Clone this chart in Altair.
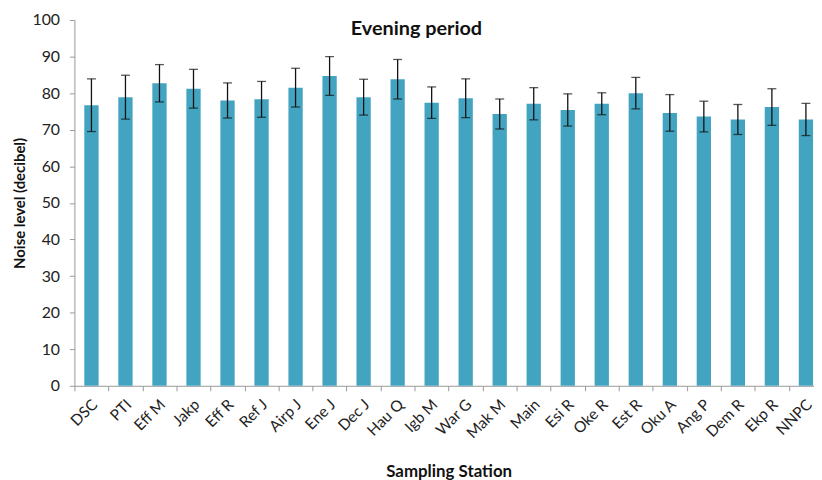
import altair as alt
import pandas as pd

stations = ["DSC", "PTI", "Eff M", "Jakp", "Eff R", "Ref J", "Airp J", "Ene J", "Dec J", "Hau Q",
            "Igb M", "War G", "Mak M", "Main", "Esi R", "Oke R", "Est R", "Oku A", "Ang P", "Dem R",
            "Ekp R", "NNPC"]
noise = [76.7, 78.9, 82.7, 81.2, 78.0, 78.3, 81.5, 84.7, 78.9, 83.8,
         77.4, 78.6, 74.3, 77.1, 75.4, 77.1, 80.0, 74.6, 73.6, 72.8,
         76.2, 72.8]
sd = [7.2, 6.0, 5.1, 5.3, 4.8, 4.9, 5.3, 5.3, 4.9, 5.4,
      4.3, 5.3, 4.1, 4.4, 4.4, 3.0, 4.3, 5.0, 4.2, 4.1,
      5.0, 4.4]
title_text = ["Evening period"]

df = pd.DataFrame({"station": stations, "noise": noise, "sd": sd})

FONT = "Lato"

x_axis = alt.Axis(
    labelAngle=-45, labelAlign="right", labelBaseline="middle",
    labelFontSize=15.5, labelFont=FONT, labelColor="#222222",
    bandPosition=0, tickOffset=-10, labelOffset=13, labelPadding=11,
    tickSize=5, tickColor="#999999", domainColor="#999999",
    titleFont=FONT, titleFontSize=17, titleFontWeight="bold", titleColor="#111111",
    titlePadding=22,
)
x_scale = alt.Scale(range=[0, 755], paddingInner=0.58, paddingOuter=0.29)


def xenc():
    return alt.X("station:N", sort=stations, title="Sampling Station", scale=x_scale, axis=x_axis)


y_scale = alt.Scale(domain=[0, 100], nice=False)
y_axis = alt.Axis(
    values=list(range(0, 101, 10)), grid=False,
    labelFontSize=16, labelFont=FONT, labelColor="#222222", labelPadding=10,
    tickSize=5, tickColor="#999999", domainColor="#999999",
    titleFont=FONT, titleFontSize=15, titleFontWeight="bold", titleColor="#111111",
    titlePadding=5,
)


def yenc(field):
    return alt.Y(field, title="Noise level (decibel)", scale=y_scale, axis=y_axis)


base = alt.Chart(df)

bars = base.mark_bar(color="#43A4C2").encode(x=xenc(), y=yenc("noise:Q"))

err = base.transform_calculate(
    lo="datum.noise - datum.sd", hi="datum.noise + datum.sd"
)

rules = err.mark_rule(color="#111111", strokeWidth=1.3).encode(
    x=xenc(), y=yenc("lo:Q"), y2="hi:Q"
)
caps_hi = err.mark_tick(color="#111111", size=9, thickness=1.3).encode(
    x=xenc(), y=yenc("hi:Q")
)
caps_lo = err.mark_tick(color="#111111", size=9, thickness=1.3).encode(
    x=xenc(), y=yenc("lo:Q")
)

title = alt.Chart(pd.DataFrame({"t": title_text})).mark_text(
    font=FONT, fontSize=20, fontWeight="bold", color="#111111", baseline="middle", align="center"
).encode(text="t:N", x=alt.value(345), y=alt.value(9))

chart = alt.layer(bars, rules, caps_hi, caps_lo, title).properties(
    width=746, height=369,
    autosize=alt.AutoSizeParams(type="none"),
    padding={"left": 67, "top": 10, "right": 0, "bottom": 100},
).configure_view(stroke=None)

chart.save("out.html", embed_options={"renderer": "svg", "actions": False})
